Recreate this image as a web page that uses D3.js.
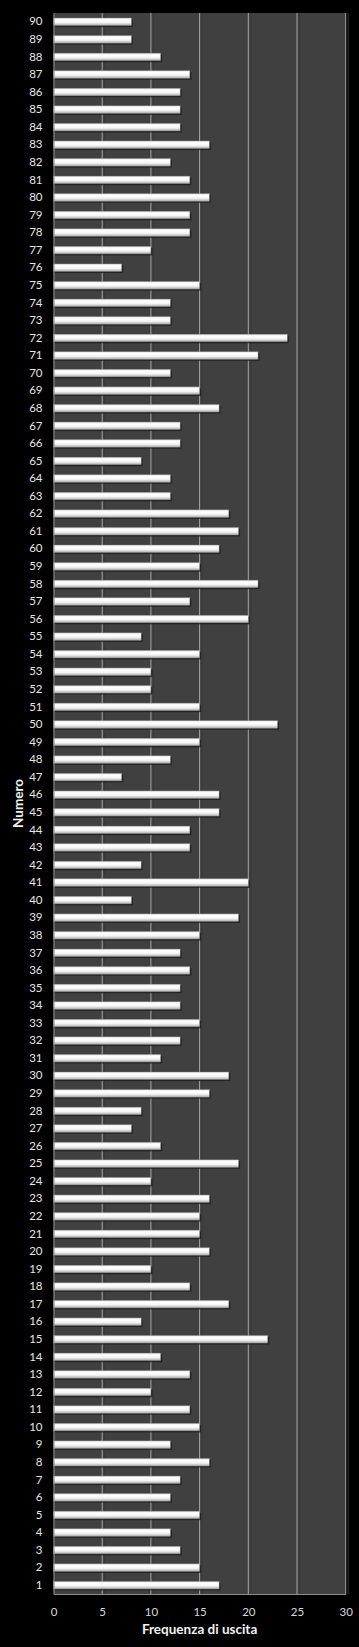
<!DOCTYPE html>
<html>
<head>
<meta charset="utf-8">
<script src="https://cdn.jsdelivr.net/npm/d3@7"></script>
<style>
html,body{margin:0;padding:0;background:#000;}
svg{display:block;}
</style>
</head>
<body>
<svg id="chart" width="359" height="1647"></svg>
<script>
const numbers = d3.range(1, 91);
const frequencies = [
  17,15,13,12,15,12,13,16,12,15,
  14,10,14,11,22,9,18,14,10,16,
  15,15,16,10,19,11,8,9,16,18,
  11,13,15,13,13,14,13,15,19,8,
  20,9,14,14,17,17,7,12,15,23,
  15,10,10,15,9,20,14,21,15,17,
  19,18,12,12,9,13,13,17,15,12,
  21,24,12,12,15,7,10,14,14,16,
  14,12,16,13,13,13,14,11,8,8
];
const xTicks = [0,5,10,15,20,25,30];
const xTitle = "Frequenza di uscita";
const yTitle = "Numero";

const W = 359, H = 1647;
const m = {left: 53.5, right: 13.3, top: 13, bottom: 53};
const iw = W - m.left - m.right, ih = H - m.top - m.bottom;

const svg = d3.select("#chart");
const defs = svg.append("defs");
const grad = defs.append("linearGradient").attr("id","barGrad")
  .attr("x1",0).attr("y1",0).attr("x2",0).attr("y2",1);
grad.append("stop").attr("offset","0%").attr("stop-color","#e6e6e6");
grad.append("stop").attr("offset","25%").attr("stop-color","#ffffff");
grad.append("stop").attr("offset","60%").attr("stop-color","#f4f4f4");
grad.append("stop").attr("offset","100%").attr("stop-color","#a8a8a8");

const data = numbers.map((n,i)=>({n, v: frequencies[i]}));

const x = d3.scaleLinear().domain([0,30]).range([0, iw]);
const y = d3.scaleBand().domain(numbers.slice().reverse().map(String)).range([0, ih]).paddingInner(0.57).paddingOuter(0.285);

const g = svg.append("g").attr("transform",`translate(${m.left},${m.top})`);

g.append("rect").attr("width",iw).attr("height",ih).attr("fill","#404040");

// gridlines
g.append("g").selectAll("line.sh").data(xTicks.slice(1)).join("line")
  .attr("x1",d=>x(d)+2.5).attr("x2",d=>x(d)+2.5).attr("y1",0).attr("y2",ih)
  .attr("stroke","#383838").attr("stroke-width",1);
g.append("g").selectAll("line.gl").data(xTicks.slice(1)).join("line")
  .attr("x1",d=>x(d)).attr("x2",d=>x(d)).attr("y1",0).attr("y2",ih)
  .attr("stroke","#a6a6a6").attr("stroke-width",1);

// bar shadows
g.append("g").selectAll("rect").data(data).join("rect")
  .attr("x",1.5).attr("y",d=>y(String(d.n))+1.5)
  .attr("width",d=>x(d.v)).attr("height",y.bandwidth())
  .attr("fill","#1c1c1c").attr("opacity",0.8);
// bars
g.append("g").selectAll("rect").data(data).join("rect")
  .attr("x",0).attr("y",d=>y(String(d.n)))
  .attr("width",d=>x(d.v)).attr("height",y.bandwidth())
  .attr("fill","url(#barGrad)").attr("stroke","#8a8a8a").attr("stroke-width",0.4);

// axes
const xAxis = g.append("g").attr("transform",`translate(0,${ih})`)
  .call(d3.axisBottom(x).tickValues(xTicks).tickSize(0).tickPadding(14));
xAxis.select(".domain").attr("stroke","#8c8c8c");
xAxis.selectAll("text").attr("fill","#d9d9d9").style("font-family","Lato, 'Open Sans', sans-serif").style("font-size","11.5px");

const yAxis = g.append("g")
  .call(d3.axisLeft(y).tickSize(0).tickPadding(11));
yAxis.select(".domain").attr("stroke","#8c8c8c");
yAxis.selectAll("text").attr("fill","#e6e6e6").style("font-family","Lato, 'Open Sans', sans-serif").style("font-size","11.5px");

svg.append("text").attr("x", m.left + iw/2).attr("y", 1634)
  .attr("text-anchor","middle").attr("fill","#f2f2f2")
  .style("font-family","Lato, 'Open Sans', sans-serif").style("font-weight","bold").style("font-size","13.5px")
  .text(xTitle);

svg.append("text").attr("transform",`translate(23,${m.top+ih/2}) rotate(-90)`)
  .attr("text-anchor","middle").attr("fill","#f2f2f2")
  .style("font-family","Lato, 'Open Sans', sans-serif").style("font-weight","bold").style("font-size","13.5px")
  .text(yTitle);
</script>
</body>
</html>
